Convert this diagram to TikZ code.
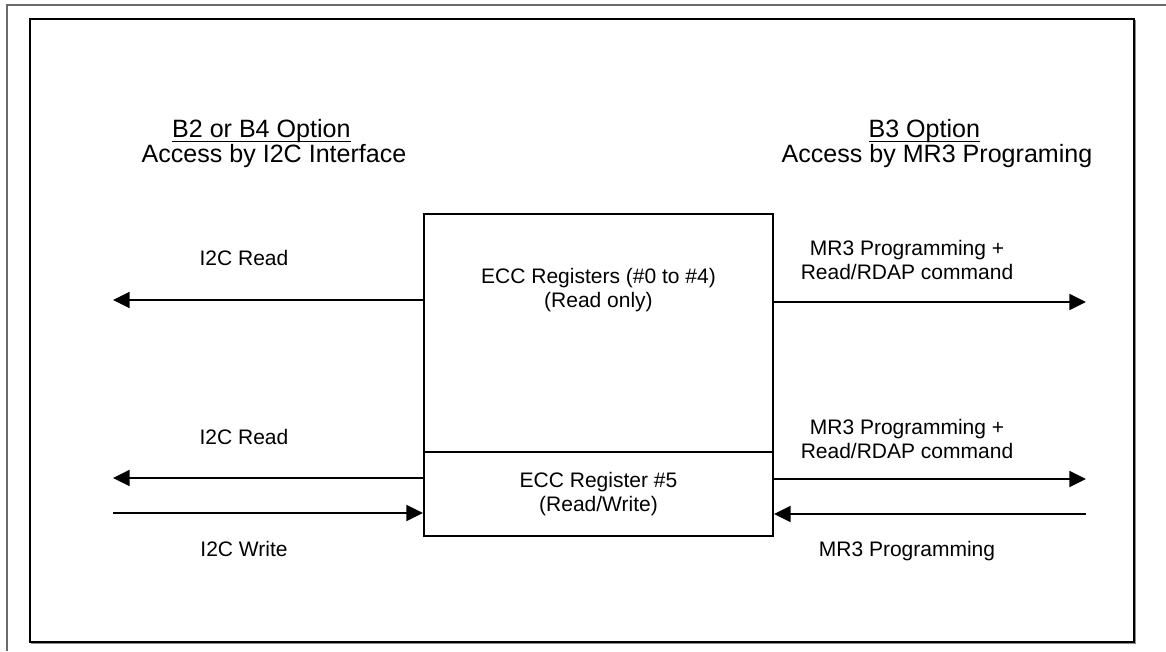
\documentclass[tikz,border=0pt]{standalone}
\usepackage{fontspec}
\setmainfont{Liberation Sans}
\usetikzlibrary{arrows.meta}
\lineskiplimit=-20pt\relax
\newsavebox\ulbox
\newcommand\myul[1]{\sbox\ulbox{#1}\rlap{\rule[-3.2pt]{\wd\ulbox}{0.9pt}}\usebox\ulbox\hspace*{19pt}}
\begin{document}
\begin{tikzpicture}[x=0.75pt,y=-0.75pt,
  arr/.style={line width=1.3pt,-{Triangle[length=12.5pt,width=12pt]}},
  lbl/.style={font=\fontsize{15.75}{18.5}\selectfont,align=center,inner sep=0pt},
  head/.style={font=\fontsize{18.8}{18.75}\selectfont,align=center,inner sep=0pt},
  regbox/.style={draw,line width=1.5pt,minimum width=261.75pt,inner sep=0pt,align=center,
    font=\fontsize{15.75}{18.5}\selectfont},
  framegray/.style={draw=black!58,line width=1.2pt}]
\useasboundingbox (0,0) rectangle (1166,651);
% page frame lines
\draw[framegray] (7,651) -- (7,5) -- (1166,5);
% inner frame with shadow
\draw[black!45,line width=1pt] (31,643.5) -- (1135.5,643.5) -- (1135.5,20);
\draw[line width=1.5pt] (30,19) rectangle (1134,642);
% register boxes
\node[regbox,minimum height=178.5pt] (regs) at (598.5,333) {};
\node[regbox,minimum height=63pt] (reg5) at (598.5,494) {ECC Register \#5\\(Read/Write)};
\node[lbl] (regstxt) at (598.5,290) {ECC Registers (\#0 to \#4)\\(Read only)};
% headings
\node[head] (hl) at (274,144) {\myul{B2 or B4 Option}\\Access by I2C Interface};
\node[head] (hr) at (937,144) {\myul{B3 Option}\\Access by MR3 Programing};
% endpoints
\coordinate (L1) at (113,300);
\coordinate (L2) at (113,478);
\coordinate (L3) at (113,513);
\coordinate (R1) at (1086,302);
\coordinate (R2) at (1086,479);
\coordinate (R3) at (1086,514);
% arrows
\draw[arr] (regs.west |- L1) -- (L1);
\draw[arr] (reg5.west |- L2) -- (L2);
\draw[arr] (L3) -- (reg5.west |- L3);
\draw[arr] (regs.east |- R1) -- (R1);
\draw[arr] (reg5.east |- R2) -- (R2);
\draw[arr] (R3) -- (reg5.east |- R3);
% labels
\node[lbl] (t1) at (244,258) {I2C Read};
\node[lbl] (t2) at (244,437) {I2C Read};
\node[lbl] (t3) at (244,549) {I2C Write};
\node[lbl] (t4) at (907,260) {MR3 Programming +\\Read/RDAP command};
\node[lbl] (t5) at (907,439) {MR3 Programming +\\Read/RDAP command};
\node[lbl] (t6) at (907,551) {MR3 Programming};
\end{tikzpicture}
\end{document}
